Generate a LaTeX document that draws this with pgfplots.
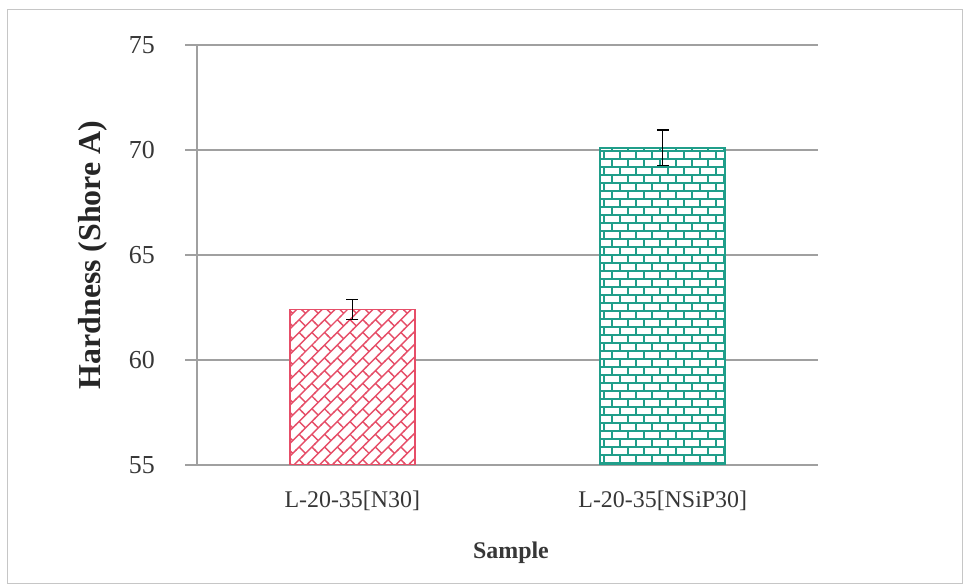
\documentclass[border=0pt]{standalone}
\usepackage{pgfplots}
\pgfplotsset{compat=1.18}
\usepackage{fontspec}
\setmainfont{Liberation Serif}
\usetikzlibrary{patterns.meta}

\definecolor{barred}{RGB}{230,78,104}
\definecolor{barteal}{RGB}{32,158,138}
\definecolor{gridgray}{RGB}{160,160,160}
\definecolor{txt}{RGB}{55,55,55}

% running-bond bricks, 16 x 8 per course (joints overlap the tile seams)
\tikzdeclarepattern{
  name=hbricks,
  type=uncolored,
  bottom left={(-1bp,-1bp)},
  top right={(17bp,17bp)},
  tile size={(16bp,16bp)},
  code={
    \draw[line width=2bp] (-1bp,4bp)--(17bp,4bp) (-1bp,12bp)--(17bp,12bp)
      (4bp,4bp)--(4bp,12bp) (12bp,12bp)--(12bp,17bp) (12bp,-1bp)--(12bp,4bp);
  }
}
% same bond laid on the diagonal, thinner joints
\tikzdeclarepattern{
  name=dbricks,
  type=uncolored,
  bottom left={(-1bp,-1bp)},
  top right={(19bp,19bp)},
  tile size={(18bp,18bp)},
  tile transformation={rotate=45},
  code={
    \draw[line width=1.4bp] (-1bp,4.5bp)--(19bp,4.5bp) (-1bp,13.5bp)--(19bp,13.5bp)
      (4.5bp,4.5bp)--(4.5bp,13.5bp) (13.5bp,13.5bp)--(13.5bp,19bp) (13.5bp,-1bp)--(13.5bp,4.5bp);
  }
}

\begin{document}
\begin{tikzpicture}
\useasboundingbox (0,0) rectangle (965bp,587bp);
\fill[white] (0,0) rectangle (965bp,587bp);
\draw[gray!45, line width=0.8bp] (7bp,4bp) rectangle (962bp,578bp);
\begin{axis}[
  at={(197bp,122bp)}, anchor=south west,
  scale only axis, width=621bp, height=420bp,
  xmin=-0.5, xmax=1.5,
  ymin=55, ymax=75,
  ytick={55,60,65,70,75},
  xtick={0,1},
  xticklabels={L-20-35[N30], L-20-35[NSiP30]},
  axis x line*=bottom, axis y line*=left,
  axis line style={gridgray, line width=1.2bp, -},
  ymajorgrids,
  grid style={gridgray, line width=1.2bp},
  major tick length=12bp,
  ytick align=outside, xtick align=inside,
  ytick style={gridgray, line width=1.2bp},
  xtick style={draw=none},
  /pgf/number format/assume math mode=true,
  yticklabel style={font=\fontsize{26}{30}\selectfont, text=txt, inner sep=0pt, anchor=east, xshift=-30bp},
  xticklabel style={font=\fontsize{24}{28}\selectfont, text=txt, inner sep=0pt, anchor=north, yshift=-14bp},
  ylabel={Hardness (Shore A)},
  ylabel style={font=\bfseries\fontsize{32}{36}\selectfont, text=black!85, at={(axis description cs:-0.1675,0.5)}, anchor=center},
  xlabel={Sample},
  xlabel style={font=\bfseries\fontsize{24}{28}\selectfont, text=txt, at={(axis description cs:0.5056,-0.2095)}, anchor=center},
  ybar, bar width=125bp, bar shift=0bp,
  error bars/y dir=both, error bars/y explicit,
  error bars/error bar style={black, line width=1.3bp},
  error bars/error mark options={black, line width=1.3bp, mark size=6bp, rotate=90},
]
\addplot[draw=barred, line width=1.8bp, fill=white,
  postaction={pattern=dbricks, pattern color=barred}]
  coordinates {(0,62.4) +- (0,0.48)};
\addplot[draw=barteal, line width=2bp, fill=white,
  postaction={pattern=hbricks, pattern color=barteal}]
  coordinates {(1,70.1) +- (0,0.85)};
\end{axis}
\end{tikzpicture}
\end{document}
